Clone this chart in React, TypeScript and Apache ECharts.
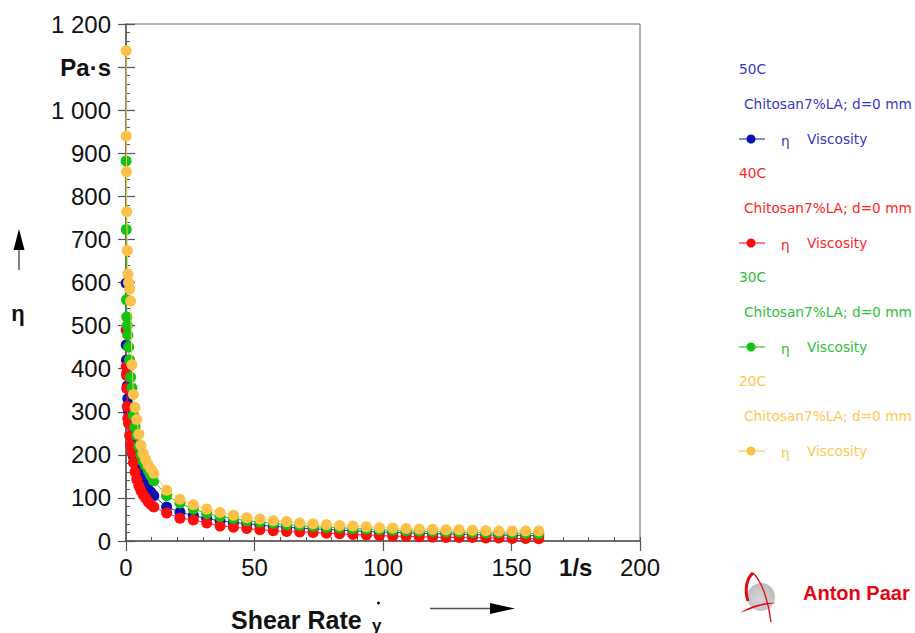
import React, { useEffect, useRef } from 'react';
import * as echarts from 'echarts';

// Shear rate (1/s)
const shearRate = [
  0.05, 0.1, 0.2, 0.3, 0.5, 0.7, 1.0, 1.4, 1.8, 2.3, 2.9, 3.5, 4.2, 5.0, 5.8, 6.7, 7.6, 8.6, 9.7, 10.8,
  15.8, 21.0, 26.2, 31.4, 36.6, 41.8, 47.0, 52.1, 57.3, 62.5, 67.6, 72.8, 78.0, 83.1, 88.3, 93.5, 98.6,
  103.8, 109.0, 114.1, 119.3, 124.5, 129.6, 134.8, 140.0, 145.1, 150.3, 155.5, 160.6,
];

// Viscosity (Pa·s)
const visc50C = [
  598, 455, 420, 389, 360, 330, 300, 275, 245, 225, 196, 185, 170, 157, 145, 135, 127, 120, 113, 105,
  79, 67, 59, 52, 47, 43, 40, 37, 34, 32, 30, 28, 27, 25, 24, 22, 21, 20, 19, 18, 17, 16, 16, 15, 14, 14, 13, 13, 12,
];
const visc40C = [
  490, 405, 385, 354, 312, 285, 273, 245, 222, 205, 182, 160, 143, 128, 117, 107, 100, 91, 85, 79,
  65, 53, 49, 42, 35, 32, 29, 26, 24, 22, 21, 20, 18, 17, 15, 14, 13, 11, 11, 10, 9, 8, 8, 8, 7, 7, 6, 6, 5,
];
const visc30C = [
  882, 723, 560, 520, 500, 478, 450, 420, 380, 355, 292, 265, 245, 220, 200, 185, 175, 165, 152, 140,
  105, 88, 74, 64, 57, 52, 47, 44, 41, 38, 36, 34, 32, 31, 29, 28, 26, 25, 24, 23, 22, 21, 21, 20, 19, 19, 18, 18, 17,
];
const visc20C = [
  1138, 940, 857, 764, 674, 620, 600, 585, 557, 409, 340, 310, 282, 248, 222, 203, 190, 177, 167, 157,
  118, 97, 84, 74, 66, 60, 54, 51, 47, 45, 42, 40, 38, 36, 35, 33, 31, 30, 29, 28, 27, 26, 26, 25, 24, 23, 23, 23, 23,
];

const temperatures = ['50C', '40C', '30C', '20C'];
const sampleName = 'Chitosan7%LA; d=0 mm';
const quantityName = 'Viscosity';
const seriesValues = [visc50C, visc40C, visc30C, visc20C];
const markerColors = ['#0812b0', '#ff0c0c', '#12c412', '#ffc04a'];
const lineColors = ['#3a3ad6', '#ff2a2a', '#2fc42f', '#ffc65a'];
const textColors = ['#3838c8', '#ff2424', '#2ec03a', '#ffc650'];

export default function App() {
  const ref = useRef<HTMLDivElement>(null);
  useEffect(() => {
    if (!ref.current) return;
    echarts.graphic.registerShape(
      'apSwoosh',
      echarts.graphic.extendPath(
        'M 0 24 C 8 18 22 13 36 14 C 24 15 12 19 0 24 Z',
        {}
      )
    );
    const chart = echarts.init(ref.current, null, { renderer: 'svg' });
    const font = 'Liberation Sans, Arial, sans-serif';
    const legendFont = 'DejaVu Sans, Verdana, sans-serif';
    const lf = `13.7px ${legendFont}`;

    const series = seriesValues.map((vals, i) => ({
      type: 'line',
      name: temperatures[i],
      xAxisIndex: 0,
      yAxisIndex: 0,
      data: shearRate.map((x, j) => [x, vals[j]]),
      symbol: 'circle',
      symbolSize: 11,
      clip: false,
      itemStyle: { color: markerColors[i] },
      lineStyle: { color: lineColors[i], width: 1 },
      z: 2 + i,
    }));

    const legendGraphics: any[] = [];
    temperatures.forEach((t, i) => {
      const base = 69 + i * 104;
      legendGraphics.push({
        type: 'text', x: 739, y: base, style: { text: t, fill: textColors[i], font: lf, textVerticalAlign: 'middle' },
      });
      legendGraphics.push({
        type: 'text', x: 744, y: base + 35, style: { text: sampleName, fill: textColors[i], font: lf, textVerticalAlign: 'middle' },
      });
      legendGraphics.push({
        type: 'line', shape: { x1: 739, y1: base + 70, x2: 765, y2: base + 70 }, style: { stroke: lineColors[i], lineWidth: 1.2 },
      });
      legendGraphics.push({
        type: 'circle', shape: { cx: 751, cy: base + 70, r: 4.5 }, style: { fill: markerColors[i] },
      });
      legendGraphics.push({
        type: 'text', x: 781, y: base + 72, style: { text: 'η', fill: textColors[i], font: lf, textVerticalAlign: 'middle' },
      });
      legendGraphics.push({
        type: 'text', x: 807, y: base + 70, style: { text: quantityName, fill: textColors[i], font: lf, textVerticalAlign: 'middle' },
      });
    });

    const option: any = {
      animation: false,
      backgroundColor: '#ffffff',
      grid: {
        left: 126, top: 24, width: 514, height: 517,
        show: true, borderColor: '#666', borderWidth: 1, backgroundColor: 'transparent',
      },
      xAxis: [
        {
          type: 'value', min: 0, max: 200, interval: 50, position: 'bottom',
          axisLine: { show: true, onZero: false, lineStyle: { color: '#555', width: 1.5 } },
          axisTick: { show: true, inside: false, length: 10, lineStyle: { color: '#555', width: 1.2 } },
          axisLabel: { color: '#111', fontSize: 24, fontFamily: font, margin: 14 },
          splitLine: { show: false },
        },
        {
          type: 'value', min: 0, max: 200, interval: 10, position: 'bottom',
          axisLine: { show: false, onZero: false },
          axisTick: { show: true, inside: true, length: 4, lineStyle: { color: '#555', width: 1 } },
          axisLabel: { show: false },
          splitLine: { show: false },
        },
        {
          type: 'value', min: 0, max: 200, interval: 25, position: 'bottom',
          axisLine: { show: false, onZero: false },
          axisTick: { show: false },
          axisLabel: {
            color: '#111', fontSize: 24, fontFamily: font, fontWeight: 'bold', margin: 14,
            formatter: (v: number) => (v === 175 ? '1/s' : ''),
          },
          splitLine: { show: false },
        },
      ],
      yAxis: [
        {
          type: 'value', min: 0, max: 1200, interval: 100, position: 'left',
          axisLine: { show: true, onZero: false, lineStyle: { color: '#555', width: 1.5 } },
          axisTick: { show: true, inside: false, length: 8, lineStyle: { color: '#555', width: 1.2 } },
          axisLabel: {
            color: '#111', fontSize: 24, fontFamily: font, margin: 15,
            formatter: (v: number) => {
              if (v === 1100) return '{u|Pa·s}';
              if (v >= 1000) return `${Math.floor(v / 1000)} ${String(v % 1000).padStart(3, '0')}`;
              return String(v);
            },
            rich: { u: { fontSize: 24, fontWeight: 'bold', fontFamily: font, color: '#111' } },
          },
          splitLine: { show: false },
        },
        {
          type: 'value', min: 0, max: 1200, interval: 100, position: 'left',
          axisLine: { show: false, onZero: false },
          axisTick: { show: true, inside: true, length: 9, lineStyle: { color: '#555', width: 1.2 } },
          axisLabel: { show: false },
          splitLine: { show: false },
        },
        {
          type: 'value', min: 0, max: 1200, interval: 20, position: 'left',
          axisLine: { show: false, onZero: false },
          axisTick: { show: true, inside: true, length: 4, lineStyle: { color: '#555', width: 1 } },
          axisLabel: { show: false },
          splitLine: { show: false },
        },
      ],
      series,
      graphic: [
        // y axis title with arrow
        { type: 'line', shape: { x1: 19, y1: 248, x2: 19, y2: 270 }, style: { stroke: '#555', lineWidth: 1.5 } },
        { type: 'polygon', shape: { points: [[19, 229], [13.5, 250], [24.5, 250]] }, style: { fill: '#000' } },
        { type: 'text', x: 18, y: 313, style: { text: 'η', font: `bold 22px ${font}`, fill: '#111', textAlign: 'center', textVerticalAlign: 'middle' } },
        // x axis title with arrow
        { type: 'text', x: 231, y: 620, style: { text: 'Shear Rate', font: `bold 25px ${font}`, fill: '#111', textVerticalAlign: 'middle' } },
        { type: 'text', x: 372, y: 625, style: { text: 'γ', font: `bold 17px ${font}`, fill: '#111', textVerticalAlign: 'middle' } },
        { type: 'circle', shape: { cx: 378.5, cy: 603, r: 1.5 }, style: { fill: '#111' } },
        { type: 'line', shape: { x1: 430, y1: 608.5, x2: 492, y2: 608.5 }, style: { stroke: '#555', lineWidth: 1.5 } },
        { type: 'polygon', shape: { points: [[515, 608.5], [490, 603], [490, 614]] }, style: { fill: '#000' } },
        // legend
        ...legendGraphics,
        // Anton Paar logo
        {
          type: 'circle', shape: { cx: 761, cy: 597, r: 14 },
          style: {
            fill: new echarts.graphic.RadialGradient(0.45, 0.6, 0.7, [
              { offset: 0, color: '#d6d6d6' }, { offset: 1, color: '#b8b8b8' },
            ]),
          },
        },
        { type: 'bezierCurve', shape: { x1: 748, y1: 601, cpx1: 744, cpy1: 589, cpx2: 747, cpy2: 578, x2: 753, y2: 573 }, style: { stroke: '#e30613', lineWidth: 3, fill: 'none' } },
        { type: 'bezierCurve', shape: { x1: 753, y1: 573, cpx1: 763, cpy1: 582, cpx2: 769, cpy2: 605, x2: 771, y2: 622 }, style: { stroke: '#e30613', lineWidth: 1.3, fill: 'none' } },
        { type: 'apSwoosh', x: 740, y: 589, scaleX: 1, scaleY: 1, style: { fill: '#e30613' } },
        { type: 'text', x: 803, y: 593, style: { text: 'Anton Paar', font: `bold 20px ${font}`, fill: '#e30613', textVerticalAlign: 'middle' } },
      ],
    };
    chart.setOption(option);
    return () => chart.dispose();
  }, []);

  return <div ref={ref} style={{ position: 'fixed', left: 0, top: 0, width: 915, height: 633, background: '#fff' }} />;
}
